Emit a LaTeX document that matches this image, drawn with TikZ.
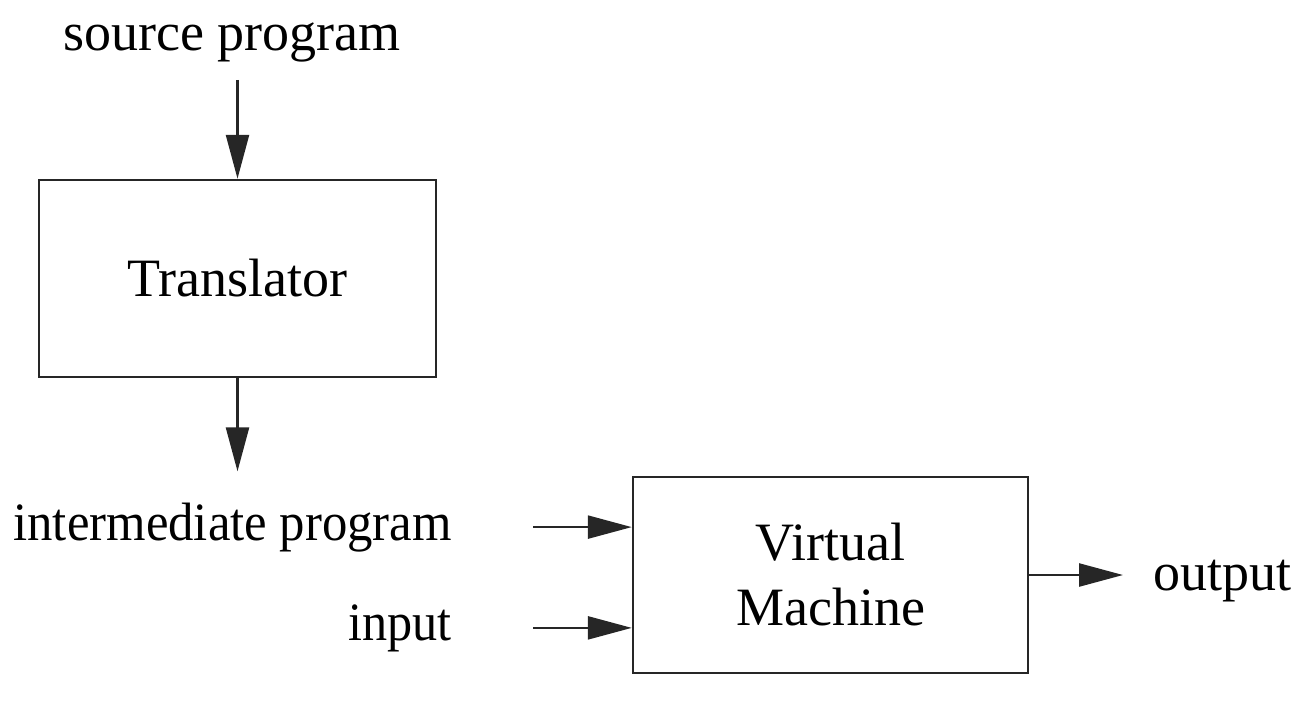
\documentclass[tikz,border=0pt]{standalone}
\usepackage{fontspec}
\setmainfont{Liberation Serif}
\usepackage{tikz}
\usetikzlibrary{arrows.meta}

\begin{document}
\begin{tikzpicture}[x=1pt, y=-1pt,
  every node/.style={font=\fontsize{54}{65}\selectfont},
  lbl/.style={inner sep=0pt},
  blk/.style={draw=black!85, line width=2.5pt, inner sep=0pt},
  arr/.style={draw=black!85, line width=2.5pt, -{Triangle[length=44pt, width=23pt]}}]
\useasboundingbox (0,0) rectangle (1316,702);
%%% The two boxes
\node[blk, minimum width=397pt, minimum height=197pt] (trans) at (237.5,278.5) {Translator};
\node[blk, minimum width=395pt, minimum height=196pt, align=center] (vm) at (830.5,575) {Virtual\\Machine};
%%%%%% The labels round them
\node[lbl, anchor=base] (src) at (232,50) {source program};
\node[lbl, anchor=base east] (mid) at (452,540) {\scalebox{0.94}[1]{intermediate program}};
\node[lbl, anchor=base east] (inp) at (452,640) {\scalebox{0.93}[1]{input}};
\node[lbl, anchor=base west] (out) at (1153,590) {output};
%%%%%% The arrows
\draw[arr, shorten <=18pt] (src.south -| trans.north) -- (trans.north);
\draw[arr, shorten >=31pt] (trans.south) -- (trans.south |- mid.north);
%
\draw[arr, shorten <=81pt] (mid.east) -- (mid.east -| vm.west);
\draw[arr, shorten <=81pt] (inp.east) -- (inp.east -| vm.west);
%
\draw[arr] (vm.east) -- ([xshift=-30pt]vm.east -| out.west);
\end{tikzpicture}
\end{document}
